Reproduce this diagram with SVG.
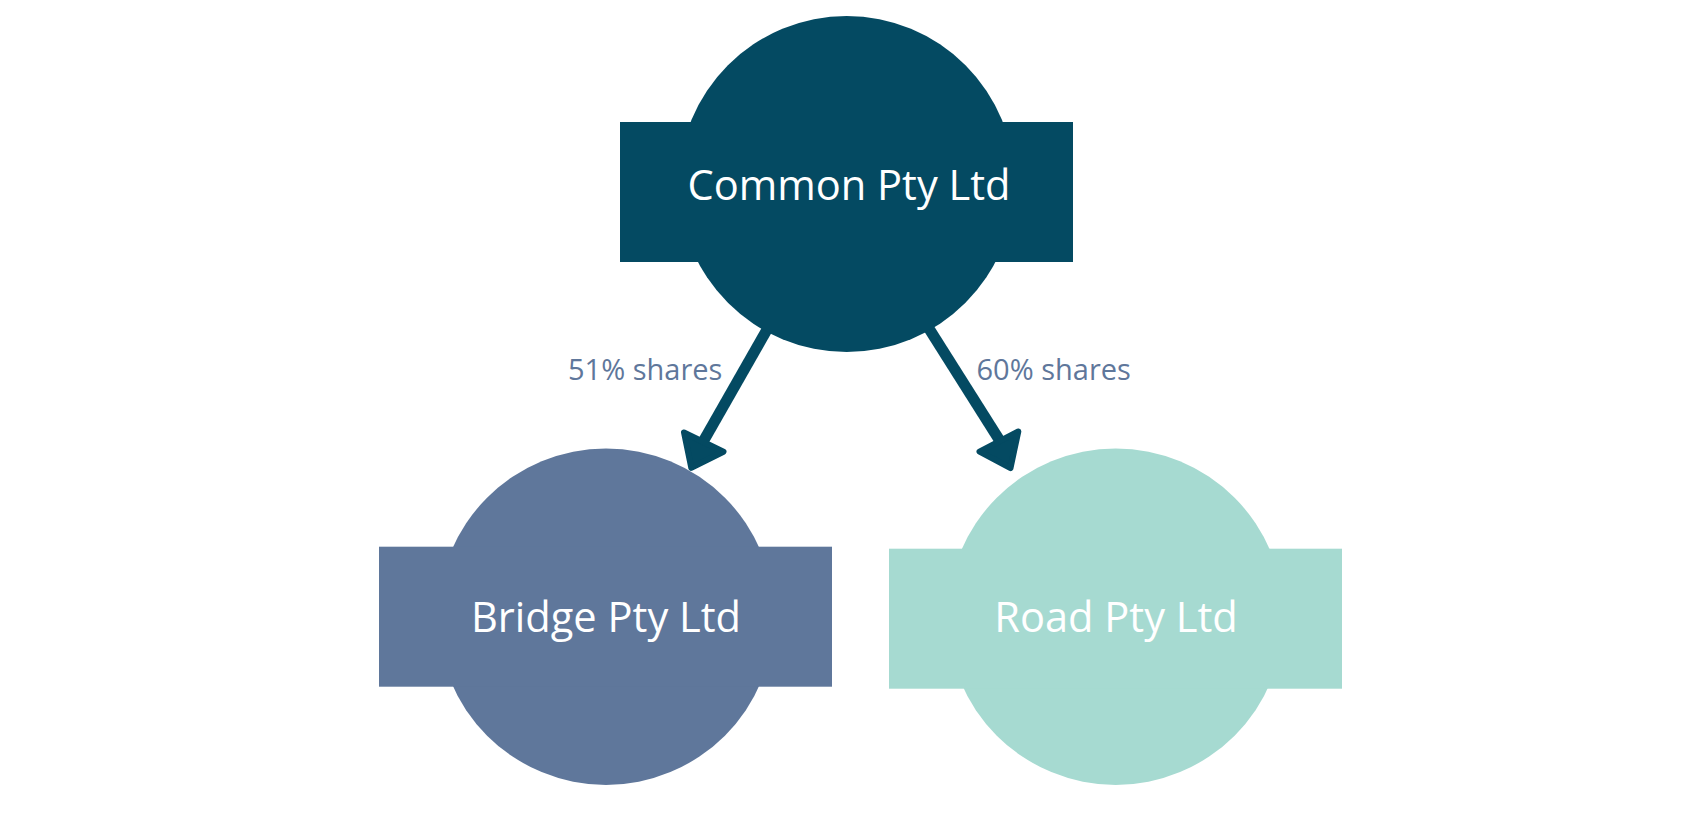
<svg xmlns="http://www.w3.org/2000/svg" width="1701" height="817" viewBox="0 0 1701 817">
<style>
.lbl{font-family:"Open Sans","Noto Sans",sans-serif;font-size:41.6px;fill:#ffffff;text-anchor:middle}
.edge{font-family:"Open Sans","Noto Sans",sans-serif;font-size:29px;fill:#5f779b}
.line{stroke:#044a62;stroke-width:11;fill:none}
.head{fill:#044a62;stroke:#044a62;stroke-width:6;stroke-linejoin:round}
</style>
<rect width="1701" height="817" fill="#ffffff"/>
<g id="bridge">
<circle cx="606" cy="616.7" r="168.2" fill="#5f779b"/>
<rect x="379" y="546.7" width="453" height="140" fill="#5f779b"/>
<text class="lbl" x="606" y="632.3">Bridge Pty Ltd</text>
</g>
<g id="road">
<circle cx="1115.7" cy="616.7" r="168.2" fill="#a6dad1"/>
<rect x="889" y="548.7" width="453" height="140" fill="#a6dad1"/>
<text class="lbl" x="1116" y="632.3">Road Pty Ltd</text>
</g>
<g id="connectors">
<line class="line" x1="795.2" y1="280" x2="703.5" y2="441"/>
<polygon class="head" points="684,432.5 723.5,451.7 691.3,467.8"/>
<line class="line" x1="898.3" y1="280" x2="1000" y2="441"/>
<polygon class="head" points="1018.3,431.5 979.5,451.7 1010.5,468"/>
<text class="edge" x="568" y="380">51% shares</text>
<text class="edge" x="976.5" y="380">60% shares</text>
</g>
<g id="common">
<circle cx="846.7" cy="184" r="168" fill="#044a62"/>
<rect x="620" y="122" width="453" height="140" fill="#044a62"/>
<text class="lbl" x="849" y="200">Common Pty Ltd</text>
</g>
</svg>
